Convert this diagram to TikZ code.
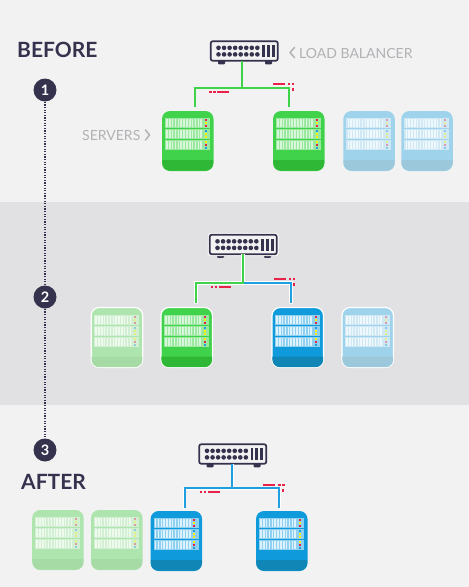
\documentclass[tikz,border=0pt]{standalone}
\usepackage{fontspec}
\setmainfont{Lato}
\usetikzlibrary{calc}
\definecolor{pagebg}{HTML}{F2F2F3}
\definecolor{bandbg}{HTML}{E1E1E3}
\definecolor{navy}{HTML}{35324E}
\definecolor{labelgrey}{HTML}{B2B2B5}
\definecolor{alert}{HTML}{E8234A}
\definecolor{linkgreen}{HTML}{3FD24A}
\definecolor{linkblue}{HTML}{1F9FE0}
\definecolor{grnBody}{HTML}{3FD24A}\definecolor{grnBand}{HTML}{2FB835}\definecolor{grnRow}{HTML}{9BE8A0}\definecolor{grnSlot}{HTML}{D8F6DA}
\definecolor{bluBody}{HTML}{0F9BDB}\definecolor{bluBand}{HTML}{0F86B5}\definecolor{bluRow}{HTML}{8FD0F0}\definecolor{bluSlot}{HTML}{DDF2FC}
\definecolor{fgrnBody}{HTML}{AEE5AE}\definecolor{fgrnBand}{HTML}{A6DBA6}\definecolor{fgrnRow}{HTML}{D3EFD3}\definecolor{fgrnSlot}{HTML}{EFFAEF}
\definecolor{fbluBody}{HTML}{9FD3EC}\definecolor{fbluBand}{HTML}{9BC8DA}\definecolor{fbluRow}{HTML}{CFE8F4}\definecolor{fbluSlot}{HTML}{EFF8FC}
\tikzset{
  serverbox/.style={rectangle,rounded corners=8pt,minimum width=51.5pt,minimum height=60pt,inner sep=0pt,outer sep=0pt},
  halo/.style={draw=white,line width=1.2pt},
  switchhalo/.style={preaction={draw=white,line width=3.8pt}},
  switchbox/.style={rectangle,rounded corners=2pt,draw=navy,fill=pagebg,line width=1.7pt,minimum width=67pt,minimum height=19.5pt,inner sep=0pt,outer sep=0pt},
  stepnum/.style={circle,fill=navy,text=white,minimum size=23pt,inner sep=0pt,font=\fontsize{14.5}{14.5}\selectfont\bfseries},
  heading/.style={text=navy,inner sep=0pt,font=\fontsize{21}{21}\selectfont\bfseries},
  caption/.style={text=labelgrey,inner sep=0pt,font=\fontsize{14}{15}\selectfont},
  chevron/.style={draw=labelgrey,line width=1.5pt,line cap=round,line join=round},
  linkg/.style={draw=linkgreen,line width=2.3pt,line join=miter},
  linkb/.style={draw=linkblue,line width=2.3pt,line join=miter},
  linkw/.style={draw=white,line width=4pt},
  linkwthin/.style={draw=white,line width=3pt},
  alertmark/.style={fill=alert},
}
% \srv[style]{name}{left}{top}{scheme}{led opacity}
\newcommand{\srv}[6][]{%
  \begin{scope}[shift={(#3,-#4)}]
    \node[serverbox,fill=#5Body,#1] (#2) at (25.75,-30) {};
    \fill[#5Band] (0.3,-49) -- (51.2,-49) -- (51.2,-52) arc[start angle=0,end angle=-90,radius=7.7] -- (8,-59.7) arc[start angle=270,end angle=180,radius=7.7] -- cycle;
    \foreach \ry/\ca/\cb/\cc in {-7.3/alert/yellow/alert,-18.3/linkblue/yellow/yellow,-29.3/yellow/alert/linkblue}{
      \fill[#5Row] (3,\ry) rectangle ++(45,-10);
      \foreach \k in {0,...,12}{\fill[#5Slot] ({4.2+2.85*\k},\ry-1) rectangle ++(1.5,-8);}
      \fill[\ca,opacity=#6] (42.8,\ry-1) rectangle ++(2,-2);
      \fill[\cb,opacity=#6] (42.8,\ry-4) rectangle ++(2,-2);
      \fill[\cc,opacity=#6] (42.8,\ry-7) rectangle ++(2,-2);
    }
  \end{scope}}
% \swt[style]{name}{left}{top}
\newcommand{\swt}[4][]{%
  \begin{scope}[shift={(#3,-#4)}]
    \fill[navy,rounded corners=1pt] (7.5,-19) rectangle ++(7,-4.3);
    \fill[navy,rounded corners=1pt] (54.5,-19) rectangle ++(7,-4.3);
    \node[switchbox,#1] (#2) at (33.75,-10) {};
    \foreach \k in {0,...,7}{
      \fill[navy] ({8+5.55*\k},-6.8) circle[radius=2.3];
      \fill[navy] ({8+5.55*\k},-13.4) circle[radius=2.3];
    }
    \foreach \bx in {51.6,56.4,61.2}{\fill[navy] (\bx,-4) rectangle ++(2.8,-12);}
  \end{scope}}
% \alertmarks{left x of low dots}{low y}{dash x of high}{high y}
\newcommand{\alertmarks}[4]{%
  \fill[alertmark] (#1,-#2+1) rectangle ++(2.6,-2);
  \fill[alertmark] ({#1+4},-#2+1) rectangle ++(2.6,-2);
  \fill[alertmark] ({#1+8},-#2+1) rectangle ++(12,-2);
  \fill[alertmark] (#3,-#4+1) rectangle ++(12,-2);
  \fill[alertmark] ({#3+15},-#4+1) rectangle ++(2.6,-2);
  \fill[alertmark] ({#3+19},-#4+1) rectangle ++(2.6,-2);
  \fill[alertmark] ({#3+19},-#4-4) rectangle ++(2,-2.6);}
\begin{document}
\begin{tikzpicture}[x=1pt,y=1pt]
\useasboundingbox (0,0) rectangle (469,-587);
\fill[pagebg] (0,0) rectangle (469,-587);
\fill[bandbg] (0,-202) rectangle (469,-405);

% step markers
\node[stepnum] (n1) at (45,-90) {1};
\node[stepnum] (n2) at (45,-297) {2};
\node[stepnum] (n3) at (45,-450) {3};
\draw[navy,line width=1.3pt,dash pattern=on 1.3pt off 1.3pt] (n1) -- (n2);
\draw[navy,line width=1.3pt,dash pattern=on 1.3pt off 1.3pt] (n2) -- (n3);

% labels
\node[heading,anchor=base west] (tbefore) at (17,-57.5) {BEFORE};
\node[heading,anchor=base west] (tafter) at (21,-489.5) {AFTER};
\node[caption,anchor=base west] (tlb) at (299,-58) {LOAD BALANCER};
\node[caption,anchor=base west] (tsv) at (82,-140) {SERVERS};
\draw[chevron] (294.5,-47.5) -- (290,-52.5) -- (294.5,-57.5);
\draw[chevron] (145.5,-130) -- (149.5,-135) -- (145.5,-140);

% panel 1
\srv{a1}{162}{111}{grn}{1}
\srv{a2}{273}{111}{grn}{1}
\srv{a3}{343.3}{111}{fblu}{.4}
\srv{a4}{401.3}{111}{fblu}{.4}
\swt{swa}{210.5}{41}
\coordinate (ja) at (242.3,-88);
\draw[linkg,shorten >=4pt] (swa.south -| ja) -- (ja) -| ($(a1.north)+(7.5,0)$);
\draw[linkg,shorten >=4pt] (ja) -| ($(a2.north)+(-9.5,0)$);
\alertmarks{209}{92}{272.5}{84}

% panel 2
\srv[halo]{b1}{91.2}{307.5}{fgrn}{.4}
\srv[halo]{b2}{161}{307.5}{grn}{1}
\srv[halo]{b3}{272}{307.5}{blu}{1}
\srv[halo]{b4}{342}{307.5}{fblu}{.4}
\swt[switchhalo]{swb}{209.5}{234.5}
\coordinate (jb) at (243.3,-283.3);
\draw[linkw,shorten >=4pt] (swb.south -| jb) -- (jb) -| ($(b2.north)+(9.5,0)$);
\draw[linkw,shorten >=4pt] (jb) -| ($(b3.north)+(-7.1,0)$);
\draw[linkb,shorten >=4.5pt] (jb) -| ($(b3.north)+(-7.1,0)$);
\draw[linkg,shorten >=4.5pt] (swb.south -| jb) -- (jb) -| ($(b2.north)+(9.5,0)$);
\alertmarks{210.5}{287.3}{273.5}{279.3}

% panel 3
\srv{c1}{32.2}{510}{fgrn}{.4}
\srv{c2}{91}{510}{fgrn}{.4}
\srv{c3}{150.6}{511}{blu}{1}
\srv{c4}{256}{511}{blu}{1}
\swt{swc}{199}{444}
\coordinate (jc) at (232,-488.3);
\draw[linkwthin,shorten >=3.5pt] (swc.south -| jc) -- (jc) -| ($(c3.north)+(8.6,0)$);
\draw[linkwthin,shorten >=3.5pt] (jc) -| ($(c4.north)+(-2.7,0)$);
\draw[linkb,shorten >=3.5pt] (swc.south -| jc) -- (jc) -| ($(c3.north)+(8.6,0)$);
\draw[linkb,shorten >=3.5pt] (jc) -| ($(c4.north)+(-2.7,0)$);
\alertmarks{199.5}{492.3}{263}{485}
\end{tikzpicture}
\end{document}
